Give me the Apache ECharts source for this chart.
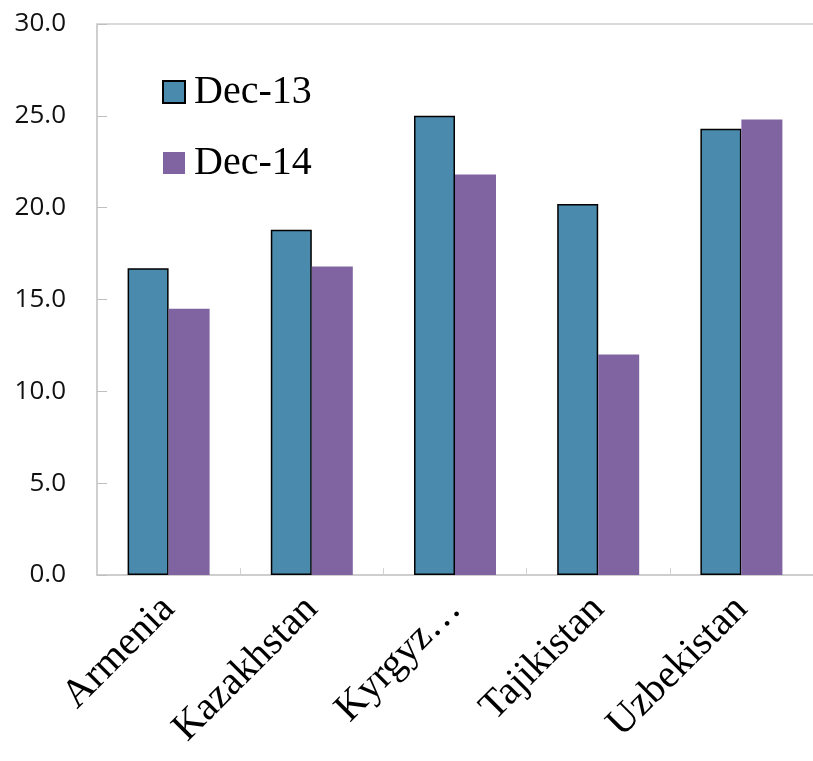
<!DOCTYPE html>
<html>
<head>
<meta charset="utf-8">
<script src="https://cdn.jsdelivr.net/npm/echarts@6/dist/echarts.min.js"></script>
<style>
  html, body { margin: 0; padding: 0; background: #ffffff; }
  #chart { width: 813px; height: 761px; }
</style>
</head>
<body>
<div id="chart"></div>
<script>
// Countries on the horizontal axis
const countries = ['Armenia', 'Kazakhstan', 'Kyrgyz…', 'Tajikistan', 'Uzbekistan'];
// Values for each period
const dec13 = [16.7, 18.8, 25.0, 20.2, 24.3];
const dec14 = [14.5, 16.8, 21.8, 12.0, 24.8];
const seriesNames = ['Dec-13', 'Dec-14'];

const chart = echarts.init(document.getElementById('chart'), null, { renderer: 'canvas' });

const serif = '"Liberation Serif", "DejaVu Serif", serif';
const sans = '"Open Sans", "DejaVu Sans", sans-serif';

chart.setOption({
  animation: false,
  backgroundColor: '#ffffff',
  grid: { left: 97, top: 24, right: -9, bottom: 186, containLabel: false },
  legend: {
    orient: 'vertical',
    left: 162,
    top: 72,
    padding: 0,
    itemWidth: 22,
    itemHeight: 22,
    itemGap: 31,
    icon: 'rect',
    textStyle: { fontFamily: serif, fontSize: 40, color: '#000000', lineHeight: 40, padding: [0, 0, 0, 4] },
    data: seriesNames
  },
  xAxis: [{
    type: 'category',
    data: countries,
    axisLine: { show: true, lineStyle: { color: '#bfbfbf', width: 1.5 } },
    axisTick: { show: true, inside: true, length: 7, alignWithLabel: false, lineStyle: { color: '#d0d0d0' } },
    axisLabel: {
      rotate: 45,
      margin: 28,
      interval: 0,
      fontFamily: serif,
      fontSize: 40,
      color: '#000000'
    }
  }, {
    type: 'category',
    data: countries,
    position: 'top',
    axisLine: { show: true, lineStyle: { color: '#d9d9d9', width: 2 } },
    axisTick: { show: false },
    axisLabel: { show: false }
  }],
  yAxis: {
    type: 'value',
    min: 0,
    max: 30,
    interval: 5,
    axisLine: { show: true, lineStyle: { color: '#bfbfbf', width: 1.5 } },
    axisTick: { show: true, inside: true, length: 10, lineStyle: { color: '#bfbfbf' } },
    splitLine: { show: false },
    axisLabel: {
      margin: 31,
      fontFamily: sans,
      fontSize: 26,
      color: '#111111',
      formatter: v => v.toFixed(1)
    }
  },
  series: [{
    name: seriesNames[0],
    type: 'bar',
    data: dec13,
    barWidth: 41,
    barGap: '0%',
    itemStyle: { color: '#4A8BAD', borderColor: '#000000', borderWidth: 1.5 }
  }, {
    name: seriesNames[1],
    type: 'bar',
    data: dec14,
    barWidth: 41,
    barGap: '0%',
    itemStyle: { color: '#8064A2' }
  }]
});
</script>
</body>
</html>
